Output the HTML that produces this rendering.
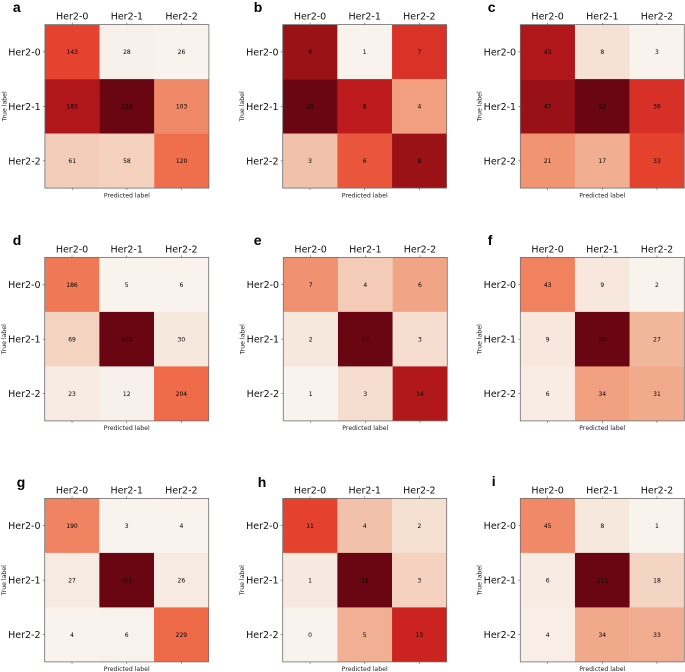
<!DOCTYPE html>
<html>
<head>
<meta charset="utf-8">
<title>Confusion matrices</title>
<style>
html,body{margin:0;padding:0;background:#fff;width:685px;height:672px;overflow:hidden}
svg{display:block;filter:blur(0.35px)}
text{font-family:"DejaVu Sans","Liberation Sans",sans-serif}
</style>
</head>
<body>
<svg id="figure" xmlns="http://www.w3.org/2000/svg" width="685" height="672" viewBox="0 0 685 672"></svg>
<script>
const categories = ["Her2-0", "Her2-1", "Her2-2"];
const panelLetters = ["a", "b", "c", "d", "e", "f", "g", "h", "i"];
const valuesA = [[143, 28, 26], [183, 218, 103], [61, 58, 120]];
const valuesB = [[9, 1, 7], [10, 8, 4], [3, 6, 9]];
const valuesC = [[43, 8, 3], [47, 52, 36], [21, 17, 33]];
const valuesD = [[186, 5, 6], [69, 405, 30], [23, 12, 204]];
const valuesE = [[7, 4, 6], [2, 17, 3], [1, 3, 14]];
const valuesF = [[43, 9, 2], [9, 99, 27], [6, 34, 31]];
const valuesG = [[190, 3, 4], [27, 451, 26], [4, 6, 229]];
const valuesH = [[11, 4, 2], [1, 18, 3], [0, 5, 13]];
const valuesI = [[45, 8, 1], [6, 111, 18], [4, 34, 33]];
const allValues = [valuesA, valuesB, valuesC, valuesD, valuesE, valuesF, valuesG, valuesH, valuesI];

const NS = "http://www.w3.org/2000/svg";
const svg = document.getElementById("figure");
const colLeft = [[44.9, 282.7, 520.3], [44.7, 283.3, 520.3], [44.7, 282.7, 520.3]];
const rowTop = [24.6, 257.4, 498.4];
const plotW = 164, plotH = 163.5;
const letterOffsets = [[-32, -12.5], [-29, -12.5], [-32.5, -12.5], [-32, -12.5], [-29.5, -12.5], [-32.5, -12.5], [-28, -11.5], [-25, -11.5], [-28.5, -12.5]];
const redsStops = [[255,245,240],[254,224,210],[252,187,161],[252,146,114],[251,106,74],[239,59,44],[203,24,29],[165,15,21],[103,0,13]];

function colorFor(t) {
  const u = Math.max(0, Math.min(1, t));
  const p = u * (redsStops.length - 1);
  const i = Math.min(Math.floor(p), redsStops.length - 2);
  const f = p - i;
  const c = redsStops[i].map(function (a, k) { return a + (redsStops[i + 1][k] - a) * f; });
  // tone shift seen in the reference: paper a little greyer, midtones muted, darkest lifted
  const bump = Math.sin(Math.PI * u);
  const red = c[0] * 0.975 + 8 * (1 - c[0] / 255) - 6 * bump;
  const green = c[1] * 0.99 + 6 * (1 - c[1] / 255) - 2 * bump;
  const blue = c[2] * 0.99 + 4 * (1 - c[2] / 255) - 4 * bump;
  return "rgb(" + Math.round(red) + "," + Math.round(green) + "," + Math.round(blue) + ")";
}
function make(tag, attrs, parent, txt) {
  const el = document.createElementNS(NS, tag);
  for (const k in attrs) el.setAttribute(k, attrs[k]);
  if (txt !== undefined) el.textContent = txt;
  parent.appendChild(el);
  return el;
}

allValues.forEach(function (matrix, idx) {
  const r = Math.floor(idx / 3), c = idx % 3;
  const x0 = colLeft[r][c], y0 = rowTop[r];
  const n = categories.length;
  const xBand = function (i) { return x0 + i * plotW / n; };
  const yBand = function (i) { return y0 + i * plotH / n; };
  const flat = matrix.flat();
  const lo = Math.min.apply(null, flat), hi = Math.max.apply(null, flat);
  const norm = function (v) { return (v - lo) / (hi - lo); };

  const g = make("g", {}, svg);
  
  

  const letter = make("text", {
    x: x0 + letterOffsets[idx][0], y: y0 + letterOffsets[idx][1],
    "font-size": 14, "font-weight": "bold", fill: "#000",
    style: 'font-family:"Liberation Sans",sans-serif'
  }, g, panelLetters[idx]);
  
  

  matrix.forEach(function (rowVals, ri) {
    rowVals.forEach(function (v, ci) {
      const cell = make("rect", {
        x: xBand(ci), y: yBand(ri), width: plotW / n + 0.1, height: plotH / n + 0.1,
        fill: colorFor(norm(v))
      }, g);
      
      
    });
  });
  matrix.forEach(function (rowVals, ri) {
    rowVals.forEach(function (v, ci) {
      const label = make("text", {
        x: xBand(ci) + plotW / n / 2, y: yBand(ri) + plotH / n / 2 + 2.2,
        "font-size": 6, "text-anchor": "middle", fill: "#000"
      }, g, String(v));
      
      
    });
  });

  const frame = make("rect", {
    x: x0, y: y0, width: plotW, height: plotH, fill: "none", stroke: "#6e6e6e", "stroke-width": 0.8
  }, g);
  
  

  categories.forEach(function (name, i) {
    const cx = xBand(i) + plotW / n / 2, cy = yBand(i) + plotH / n / 2;
    const tickTop = make("line", { x1: cx, x2: cx, y1: y0 - 2, y2: y0, stroke: "#555", "stroke-width": 0.6 }, g);
    
    
    const tickBottom = make("line", { x1: cx, x2: cx, y1: y0 + plotH, y2: y0 + plotH + 2, stroke: "#555", "stroke-width": 0.6 }, g);
    
    
    const tickLeft = make("line", { x1: x0 - 2, x2: x0, y1: cy, y2: cy, stroke: "#555", "stroke-width": 0.6 }, g);
    
    
    const xLabel = make("text", {
      x: cx, y: y0 - 5, "font-size": 9.5, "text-anchor": "middle", fill: "#111"
    }, g, name);
    
    
    const yLabel = make("text", {
      x: x0 - 4.2, y: cy + 3.4, "font-size": 9.5, "text-anchor": "end", fill: "#111"
    }, g, name);
    
    
  });

  const xTitle = make("text", {
    x: x0 + plotW / 2, y: y0 + plotH + 9.2, "font-size": 6.2, "text-anchor": "middle", fill: "#222"
  }, g, "Predicted label");
  
  
  const yMid = y0 + plotH / 2;
  const yTitle = make("text", {
    x: x0 - 38.6, y: yMid, "font-size": 6.2, "text-anchor": "middle", fill: "#222",
    transform: "rotate(-90 " + (x0 - 38.6) + " " + yMid + ")"
  }, g, "True label");
  
  
});
</script>
</body>
</html>
